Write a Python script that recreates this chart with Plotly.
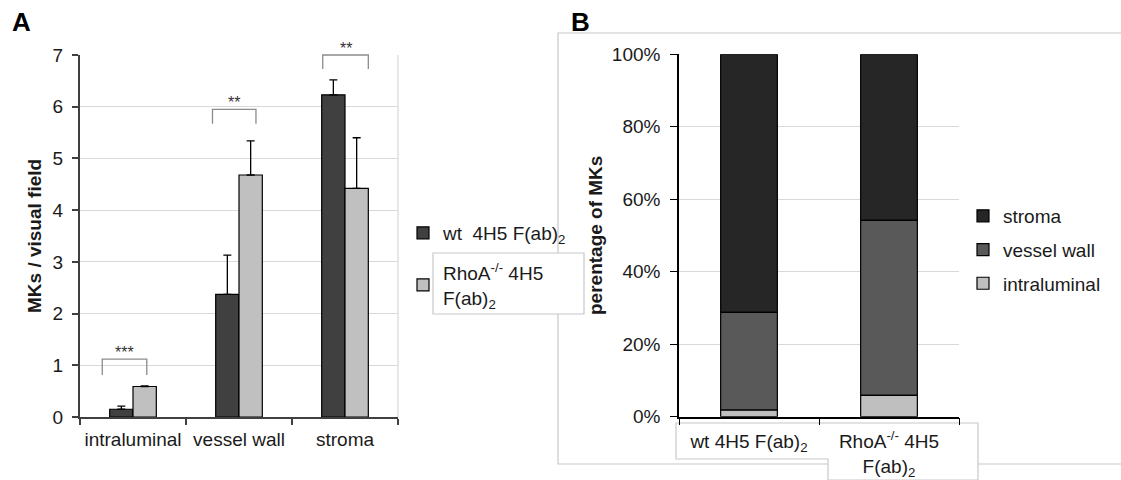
import numpy as np
import plotly.graph_objects as go

# ---------------- data ----------------
categories_a = ["intraluminal", "vessel wall", "stroma"]
wt_mean = [0.15, 2.37, 6.23]
wt_err = [0.06, 0.76, 0.29]
rhoa_mean = [0.59, 4.68, 4.42]
rhoa_err = [0.01, 0.66, 0.98]
sig_labels = ["***", "**", "**"]
sig_bracket_top = [1.12, 5.95, 7.0]
sig_bracket_bottom = [0.81, 5.67, 6.73]

groups_b = ["wt 4H5 F(ab)<sub>2</sub>", "RhoA<sup>-/-</sup> 4H5<br>F(ab)<sub>2</sub>"]
pct_intraluminal = [1.8, 5.9]
pct_vessel_wall = [27.0, 48.3]
pct_stroma = [71.2, 45.8]

a_ticks = [0, 1, 2, 3, 4, 5, 6, 7]
b_ticks = [0, 20, 40, 60, 80, 100]
b_ticktext = ["0%", "20%", "40%", "60%", "80%", "100%"]

title_a = "MKs / visual field"
title_b = "perentage of MKs"

# ---------------- layout helpers ----------------
W, H = 1121, 480
FONT = "Liberation Sans, Arial, sans-serif"
TXT = "#1a1a1a"
GRID = "#d9d9d9"
BOXC = "#c8c8c8"

def px(x):
    return min(max(x / W, 0.0), 1.0)

def py(y):
    return min(max(1 - y / H, 0.0), 1.0)

A_X = [px(80), px(398)]
A_Y = [py(417), py(55)]
B_X = [px(679), px(959)]
B_Y = [py(416.7), py(54.3)]

def a_paper_y(v):
    return A_Y[0] + (v / 7.0) * (A_Y[1] - A_Y[0])

def a_paper_x(cat, off):
    return A_X[0] + (cat + 0.5 + off) / 3.0 * (A_X[1] - A_X[0])

fig = go.Figure()

bar_w = 0.22
fig.add_trace(go.Bar(
    x=categories_a, y=wt_mean, name="wt  4H5 F(ab)<sub>2</sub>",
    offset=-bar_w, width=bar_w, legendgroup="wt",
    marker=dict(color="#404040", line=dict(color="#000000", width=1.2)),
    error_y=dict(type="data", array=wt_err, arrayminus=[0] * 3, symmetric=False,
                 color="#000000", thickness=1.3, width=4),
    xaxis="x", yaxis="y", legend="legend",
))
fig.add_trace(go.Bar(
    x=categories_a, y=rhoa_mean, name="RhoA<sup>-/-</sup> 4H5<br>F(ab)<sub>2</sub>",
    offset=0, width=bar_w, legendgroup="rhoa",
    marker=dict(color="#c0c0c0", line=dict(color="#000000", width=1.2)),
    error_y=dict(type="data", array=rhoa_err, arrayminus=[0] * 3, symmetric=False,
                 color="#000000", thickness=1.3, width=4),
    xaxis="x", yaxis="y", legend="legend",
))

base_vw = list(np.array(pct_intraluminal))
base_st = list(np.array(pct_intraluminal) + np.array(pct_vessel_wall))
b_series = [
    ("stroma", pct_stroma, base_st, "#262626"),
    ("vessel wall", pct_vessel_wall, base_vw, "#595959"),
    ("intraluminal", pct_intraluminal, [0, 0], "#bfbfbf"),
]
for name, vals, base, col in b_series:
    fig.add_trace(go.Bar(
        x=groups_b, y=vals, base=base, name=name, width=0.405,
        marker=dict(color=col, line=dict(color="#000000", width=1.2)),
        xaxis="x2", yaxis="y2", legend="legend2", legendgroup=name,
    ))

shapes = []
shapes.append(dict(type="path", xref="paper", yref="paper",
                   path=f"M {px(1121)},{py(33)} L {px(558)},{py(33)} L {px(558)},{py(464)} L {px(1121)},{py(464)}",
                   line=dict(color=BOXC, width=1.2), layer="below"))
shapes.append(dict(type="rect", xref="paper", yref="paper",
                   x0=px(433), x1=px(584), y0=py(314), y1=py(253),
                   line=dict(color=BOXC, width=1.2), fillcolor="white", layer="below"))
path = "M {a},{b} L {c},{b} L {c},{d} L {e},{d} L {e},{f} L {a},{f} Z".format(
    a=px(676), b=py(423), c=px(978), d=py(480), e=px(828), f=py(459))
shapes.append(dict(type="path", xref="paper", yref="paper", path=path,
                   line=dict(color=BOXC, width=1.2), fillcolor="white", layer="below"))
shapes.append(dict(type="line", xref="paper", yref="paper",
                   x0=A_X[1], x1=A_X[1], y0=A_Y[0], y1=A_Y[1],
                   line=dict(color=GRID, width=1.2), layer="below"))

bracket_off = [(-0.29, 0.13), (-0.25, 0.16), (-0.21, 0.22)]
annotations = []
for i, (lo, hi) in enumerate(bracket_off):
    x0 = a_paper_x(i, lo)
    x1 = a_paper_x(i, hi)
    yt = a_paper_y(sig_bracket_top[i])
    yb = a_paper_y(sig_bracket_bottom[i])
    shapes.append(dict(type="path", xref="paper", yref="paper",
                       path=f"M {x0},{yb} L {x0},{yt} L {x1},{yt} L {x1},{yb}",
                       line=dict(color="#8c8c8c", width=1.3)))
    annotations.append(dict(xref="paper", yref="paper", x=(x0 + x1) / 2,
                            y=yt - 4.0 / H, text=sig_labels[i], showarrow=False,
                            yanchor="bottom", xanchor="center",
                            font=dict(family=FONT, size=16, color="#333333")))

annotations.append(dict(xref="paper", yref="paper", x=px(21), y=py(22), text="<b>A</b>",
                        xanchor="center", yanchor="middle",
                        showarrow=False, font=dict(family=FONT, size=26, color="#000000")))
annotations.append(dict(xref="paper", yref="paper", x=px(580), y=py(22), text="<b>B</b>",
                        xanchor="center", yanchor="middle",
                        showarrow=False, font=dict(family=FONT, size=26, color="#000000")))
annotations.append(dict(xref="paper", yref="paper", x=px(34), y=py(236), text=f"<b>{title_a}</b>",
                        textangle=-90, xanchor="center", yanchor="middle", showarrow=False,
                        font=dict(family=FONT, size=19, color=TXT)))
annotations.append(dict(xref="paper", yref="paper", x=px(595), y=py(236), text=f"<b>{title_b}</b>",
                        textangle=-90, xanchor="center", yanchor="middle", showarrow=False,
                        font=dict(family=FONT, size=19, color=TXT)))

tickfont = dict(family=FONT, size=19, color=TXT)

fig.update_layout(
    width=W, height=H, autosize=False,
    margin=dict(l=0, r=0, t=0, b=0, autoexpand=False),
    paper_bgcolor="white", plot_bgcolor="rgba(0,0,0,0)",
    barmode="overlay",
    font=dict(family=FONT, size=19, color=TXT),
    shapes=shapes, annotations=annotations,
    xaxis=dict(domain=A_X, anchor="y", type="category", tickson="boundaries",
               ticks="outside", ticklen=6, tickcolor="#404040", tickwidth=1.5,
               showline=True, linecolor="#404040", linewidth=2, showgrid=False,
               tickangle=0, tickfont=tickfont, automargin=False, ticklabelstandoff=4),
    yaxis=dict(domain=A_Y, anchor="x", range=[0, 7], tickvals=a_ticks,
               ticks="outside", ticklen=6, tickcolor="#404040", tickwidth=1.5,
               showline=True, linecolor="#404040", linewidth=2,
               showgrid=True, gridcolor=GRID, gridwidth=1.2, zeroline=False,
               tickfont=tickfont, automargin=False, ticklabelstandoff=5),
    xaxis2=dict(domain=B_X, anchor="y2", type="category", tickson="boundaries",
                ticks="outside", ticklen=7, tickcolor="#000000", tickwidth=1.3,
                showline=True, linecolor="#000000", linewidth=1.5, showgrid=False,
                tickangle=0, tickfont=tickfont, automargin=False, ticklabelstandoff=7),
    yaxis2=dict(domain=B_Y, anchor="x2", range=[0, 100], tickvals=b_ticks, ticktext=b_ticktext,
                ticks="outside", ticklen=7, tickcolor="#000000", tickwidth=1.3,
                showline=True, linecolor="#000000", linewidth=1.5,
                showgrid=True, gridcolor=GRID, gridwidth=1.2, zeroline=False,
                tickfont=tickfont, automargin=False, ticklabelstandoff=6),
    legend=dict(x=px(403), y=py(214), xanchor="left", yanchor="top",
                bgcolor="rgba(0,0,0,0)", font=dict(family=FONT, size=19, color=TXT),
                traceorder="grouped", tracegroupgap=12),
    legend2=dict(x=px(963), y=py(197), xanchor="left", yanchor="top",
                 bgcolor="rgba(0,0,0,0)", font=dict(family=FONT, size=19, color=TXT),
                 traceorder="grouped", tracegroupgap=6),
)

post = (
    "document.documentElement.style.margin='0';"
    "document.body.style.margin='0';document.body.style.padding='0';"
    "document.body.style.overflow='hidden';"
    "var gd=document.getElementById('{plot_id}');"
    "gd.style.position='fixed';gd.style.left='0px';gd.style.top='0px';"
)
fig.write_html("out.html", post_script=post, config={"displayModeBar": False})
